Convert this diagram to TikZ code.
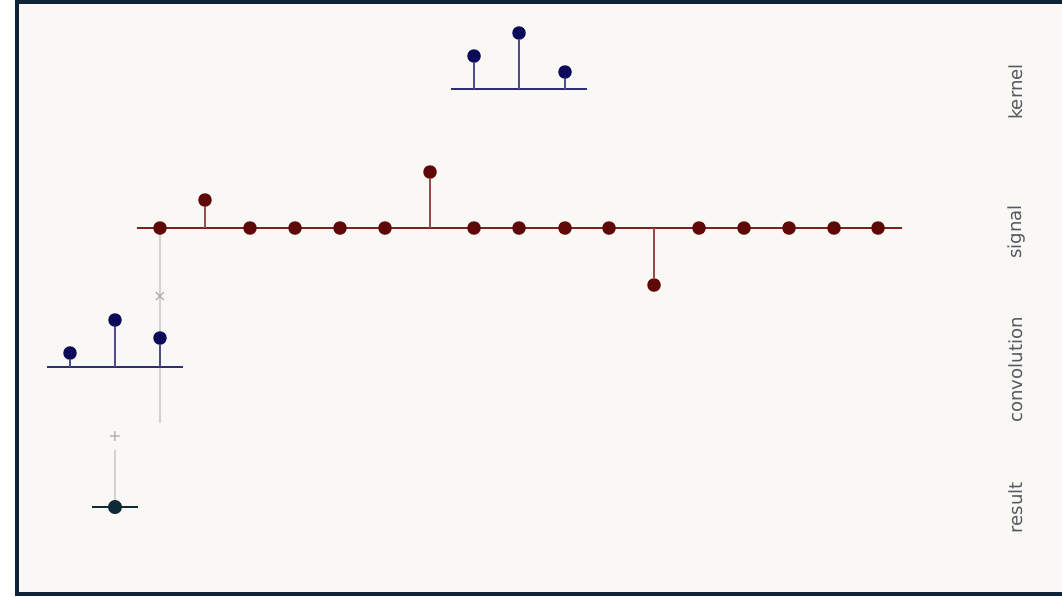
\documentclass[tikz,border=0pt]{standalone}
\usepackage{fontspec}
\setmainfont{DejaVu Sans}
\definecolor{frame}{HTML}{0E2238}
\definecolor{paper}{HTML}{F9F8F4}
\definecolor{kern}{HTML}{0A0A58}
\definecolor{kernline}{HTML}{2E2E72}
\definecolor{sig}{HTML}{5E0808}
\definecolor{sigline}{HTML}{7A2222}
\definecolor{res}{HTML}{0E2A38}
\definecolor{guide}{HTML}{D2D2D2}
\definecolor{lab}{HTML}{555A60}
\begin{document}
\begin{tikzpicture}[x=0.02cm,y=-0.02cm,
  kdot/.style={circle,fill=kern,inner sep=0pt,minimum size=0.27cm},
  sdot/.style={circle,fill=sig,inner sep=0pt,minimum size=0.27cm},
  rdot/.style={circle,fill=res,inner sep=0pt,minimum size=0.28cm},
  kbase/.style={draw=kernline,line width=1.4pt},
  kstem/.style={draw=kernline!85,line width=1pt},
  sbase/.style={draw=sigline,line width=1.4pt},
  sstem/.style={draw=sigline!80,line width=1pt},
  guideline/.style={draw=guide,line width=0.8pt},
  opsign/.style={text=guide!80!black,font=\fontsize{9}{10}\selectfont,inner sep=0pt},
  rowlabel/.style={rotate=90,text=lab,font=\fontsize{10.3}{12}\selectfont,inner sep=0pt}]
\useasboundingbox (0,0) rectangle (1062,596);
\fill[white] (0,0) rectangle (1062,596);
\fill[paper] (17,2) rectangle (1070,594);
\draw[frame,line width=2.3pt] (17,2) rectangle (1070,594);

% kernel
\coordinate (kl) at (451,89); \coordinate (kr) at (587,89);
\draw[kbase] (kl) -- (kr);
\node[kdot] (k1) at (474,56) {};
\node[kdot] (k2) at (519,33) {};
\node[kdot] (k3) at (565,72) {};
\coordinate (kb1) at (474,89); \coordinate (kb2) at (519,89); \coordinate (kb3) at (565,89);
\draw[kstem] (kb1) -- (k1); \draw[kstem] (kb2) -- (k2); \draw[kstem] (kb3) -- (k3);

% guide lines
\coordinate (g1) at (160,228); \coordinate (g2) at (160,423);
\draw[guideline] (g1) -- (g2);
\node[opsign] (times) at (160,297) {×};
\node[opsign] (plus) at (115,437) {+};
\coordinate (g3) at (115,450); \coordinate (g4) at (115,505);
\draw[guideline] (g3) -- (g4);

% signal
\coordinate (sl) at (137,228); \coordinate (sr) at (902,228);
\draw[sbase] (sl) -- (sr);
\coordinate (sb2) at (205,228); \coordinate (sb7) at (430,228); \coordinate (sb12) at (654,228);
\node[sdot] (s2) at (205,200) {};
\node[sdot] (s7) at (430,172) {};
\node[sdot] (s12) at (654,285) {};
\draw[sstem] (sb2) -- (s2); \draw[sstem] (sb7) -- (s7); \draw[sstem] (sb12) -- (s12);
\foreach \i/\x in {1/160,3/250,4/295,5/340,6/385,8/474,9/519,10/565,11/609,13/699,14/744,15/789,16/834,17/878}
  \node[sdot] (s\i) at (\x,228) {};

% flipped kernel (convolution)
\coordinate (cl) at (47,367); \coordinate (cr) at (183,367);
\draw[kbase] (cl) -- (cr);
\node[kdot] (c1) at (70,353) {};
\node[kdot] (c2) at (115,320) {};
\node[kdot] (c3) at (160,338) {};
\coordinate (cb1) at (70,367); \coordinate (cb2) at (115,367); \coordinate (cb3) at (160,367);
\draw[kstem] (cb1) -- (c1); \draw[kstem] (cb2) -- (c2); \draw[kstem] (cb3) -- (c3);

% result
\coordinate (rl) at (92,507); \coordinate (rr) at (138,507);
\draw[draw=res,line width=1.5pt] (rl) -- (rr);
\node[rdot] (r1) at (115,507) {};

% labels
\node[rowlabel] (lk) at (1016,92) {kernel};
\node[rowlabel] (ls) at (1016,232) {signal};
\node[rowlabel] (lc) at (1016,370) {convolution};
\node[rowlabel] (lr) at (1016,508) {result};
\end{tikzpicture}
\end{document}
